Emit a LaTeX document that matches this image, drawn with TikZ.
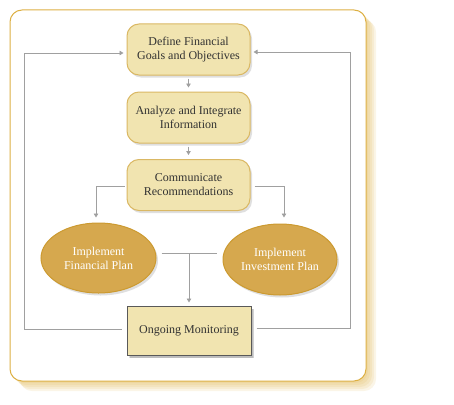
\documentclass[tikz,border=0pt]{standalone}
\usepackage{fontspec}
\setmainfont{Liberation Serif}
\usepackage{tikz}
\usetikzlibrary{arrows.meta,shapes,positioning,shadows,calc}
\usepackage{xcolor}
\definecolor{pgold}{RGB}{221,176,68}
\definecolor{boxfill}{RGB}{241,228,176}
\definecolor{boxline}{RGB}{218,184,100}
\definecolor{ovalfill}{RGB}{214,168,78}
\definecolor{ovalline}{RGB}{204,154,48}
\definecolor{linegray}{RGB}{160,160,160}
\definecolor{textgray}{RGB}{50,50,50}
\tikzstyle{arrow} = [draw=linegray, line width=0.8pt, -{Triangle[length=4pt,width=4.5pt]}, color=linegray]
\tikzstyle{link} = [draw=linegray, line width=0.8pt]
\tikzstyle{stagebox} = [rectangle, rounded corners=12pt, minimum width=123pt, minimum height=51pt, align=center, draw=boxline, fill=boxfill, line width=1pt, text=textgray, font=\fontsize{12}{14}\selectfont, drop shadow={shadow xshift=2pt, shadow yshift=-2.5pt, opacity=0.25}]
\tikzstyle{planoval} = [ellipse, inner xsep=-3pt, inner ysep=0pt, minimum width=115pt, minimum height=70pt, align=center, draw=ovalline, fill=ovalfill, line width=1pt, text=white, font=\fontsize{12}{14}\selectfont, drop shadow={shadow xshift=2pt, shadow yshift=-2.5pt, opacity=0.25}]

\begin{document}
\begin{tikzpicture}[x=1pt, y=-1pt]
\useasboundingbox (0,0) rectangle (454,404);
% panel with golden shadow
\foreach \s in {2,4,...,10}
  \fill[pgold, opacity=0.13, rounded corners=12pt] (10+\s,10+\s) rectangle (366+\s,381+\s);
\draw[pgold, fill=white, line width=1pt, rounded corners=12pt] (10,10) rectangle (366,381);

% stages
\node[stagebox] at (188.5,49.5) (goals) {Define Financial\\Goals and Objectives};
\node[stagebox] at (188.5,117.5) (analyze) {Analyze and Integrate\\Information};
\node[stagebox] at (188.5,185) (recommend) {Communicate\\Recommendations};
\node[planoval] at (98.5,258) (finplan) {Implement\\Financial Plan};
\node[planoval, minimum width=114pt, minimum height=71pt] at (280,259.5) (invplan) {Implement\\Investment Plan};
\node[stagebox, rounded corners=0pt, draw=black!65, minimum width=124pt, minimum height=49pt, drop shadow={shadow xshift=2.5pt, shadow yshift=-3pt, opacity=0.35}] at (189,330.5) (monitor) {Ongoing Monitoring};

% flow
\draw[arrow, shorten <=3pt, shorten >=4pt] (goals) -- (analyze);
\draw[arrow, shorten <=3pt, shorten >=4pt] (analyze) -- (recommend);
\draw[arrow] ([xshift=-2pt,yshift=-1pt]recommend.west) -| ([xshift=-2.5pt,yshift=5pt]finplan.north);
\draw[arrow] ([xshift=4pt,yshift=-1pt]recommend.east) -| ([xshift=4pt,yshift=6pt]invplan.north);

% plans to monitoring
\coordinate (join) at (189,253);
\draw[link] ([xshift=5pt]finplan.east |- join) -- ([xshift=-6pt]invplan.west |- join);
\draw[arrow, shorten >=3pt] (join) -- (monitor.north);

% feedback loops
\coordinate (loopL) at (24,53);
\coordinate (loopR) at (350,52);
\draw[arrow] ([xshift=-5pt,yshift=1.5pt]monitor.west) -| (loopL) -- ([xshift=-3pt]goals.west |- loopL);
\draw[arrow] ([xshift=5pt,yshift=2.5pt]monitor.east) -| (loopR) -- ([xshift=3pt]goals.east |- loopR);
\end{tikzpicture}
\end{document}
